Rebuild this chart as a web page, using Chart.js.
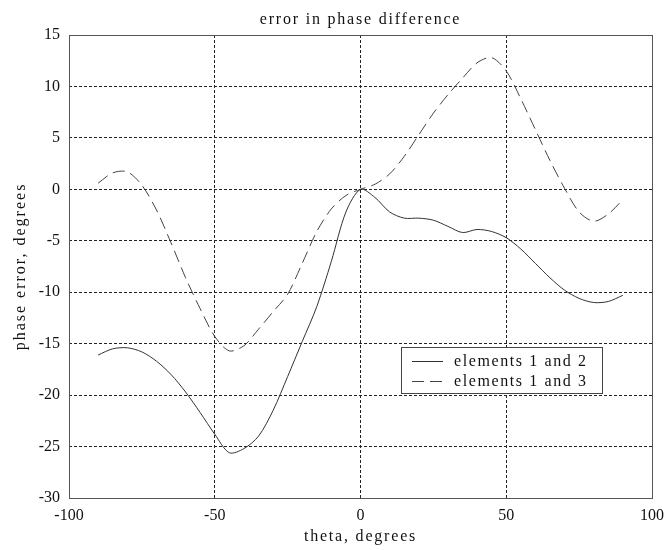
<!DOCTYPE html>
<html>
<head>
<meta charset="utf-8">
<script src="https://cdn.jsdelivr.net/npm/chart.js@4.4.1/dist/chart.umd.min.js"></script>
<style>
  html, body { margin: 0; padding: 0; background: #fff; }
  #wrap { width: 672px; height: 550px; }
</style>
</head>
<body>
<div id="wrap"><canvas id="phase"></canvas></div>
<script>
'use strict';

const thetaDeg = [-90, -85, -80, -75, -70, -65, -60, -55, -50, -45, -40, -35, -30, -25, -20, -15, -10, -5,
  0, 5, 10, 15, 20, 25, 30, 35, 40, 45, 50, 55, 60, 65, 70, 75, 80, 85, 90];

// phase error for element pair 1-2
const elements12 = [-16.1, -15.5, -15.4, -15.8, -16.7, -18.0, -19.7, -21.7, -23.8, -25.6, -25.2, -24.0,
  -21.5, -18.2, -14.8, -11.4, -7.0, -2.2, 0, -0.8, -2.2, -2.8, -2.8, -3.0, -3.6, -4.2, -3.9, -4.1, -4.7,
  -5.8, -7.2, -8.6, -9.8, -10.6, -11.0, -10.9, -10.3];

// phase error for element pair 1-3
const elements13 = [0.6, 1.6, 1.7, 0.4, -2.0, -5.2, -8.6, -11.6, -14.3, -15.7, -15.2, -13.6, -11.9, -10.2,
  -7.2, -4.1, -1.9, -0.6, 0, 0.5, 1.5, 3.2, 5.3, 7.4, 9.2, 10.8, 12.3, 12.8, 11.5, 8.8, 5.8, 2.8, 0.1,
  -2.2, -3.1, -2.4, -1.0];

const seriesNames = ['elements 1 and 2', 'elements 1 and 3'];
const xTicks = [-100, -50, 0, 50, 100];
const yTicks = [-30, -25, -20, -15, -10, -5, 0, 5, 10, 15];

const serif = 'Liberation Serif, Times New Roman, serif';

function toPoints(ys) {
  return thetaDeg.map((t, i) => {
    return { x: t, y: ys[i] };
  });
}

// box round the plot, the titles and the legend inside the plot
const frame = {
  id: 'frame',
  beforeDraw(chart) {
    const ctx = chart.ctx;
    ctx.save();
    ctx.fillStyle = '#fff';
    ctx.fillRect(0, 0, chart.width, chart.height);
    ctx.restore();
  },
  afterDraw(chart) {
    const { ctx, chartArea: a } = chart;
    const midX = (a.left + a.right) / 2;
    const midY = (a.top + a.bottom) / 2;
    ctx.save();
    ctx.strokeStyle = '#555';
    ctx.lineWidth = 1;
    ctx.strokeRect(Math.round(a.left) + 0.5, Math.round(a.top) + 0.5,
      Math.round(a.right - a.left), Math.round(a.bottom - a.top));

    ctx.fillStyle = '#111';
    ctx.font = '16px ' + serif;
    ctx.letterSpacing = '1.8px';
    ctx.textAlign = 'center';
    ctx.textBaseline = 'alphabetic';
    ctx.fillText('error in phase difference', midX, 24);
    ctx.fillText('theta, degrees', midX, 541);

    ctx.save();
    ctx.translate(25, midY);
    ctx.rotate(-Math.PI / 2);
    ctx.letterSpacing = '2px';
    ctx.fillText('phase error, degrees', 0, 0);
    ctx.restore();

    // legend
    const bx = 401, by = 347, bw = 201, bh = 46;
    ctx.fillStyle = '#fff';
    ctx.fillRect(bx, by, bw, bh);
    ctx.strokeStyle = '#444';
    ctx.strokeRect(bx + 0.5, by + 0.5, bw, bh);
    ctx.font = '16px ' + serif;
    ctx.textAlign = 'left';
    ctx.textBaseline = 'middle';
    ctx.letterSpacing = '1.6px';
    chart.data.datasets.forEach((ds, i) => {
      const y = by + 14 + i * 20;
      ctx.strokeStyle = ds.borderColor;
      ctx.lineWidth = 1;
      ctx.setLineDash(ds.borderDash || []);
      ctx.beginPath();
      ctx.moveTo(bx + 11, y + 0.5);
      ctx.lineTo(bx + 42, y + 0.5);
      ctx.stroke();
      ctx.setLineDash([]);
      ctx.fillStyle = '#111';
      ctx.fillText(ds.label, bx + 53, y + 1);
    });
    ctx.restore();
  },
};

new Chart(document.getElementById('phase'), {
  type: 'line',
  data: {
    datasets: [
      {
        label: seriesNames[0],
        data: toPoints(elements12),
        borderColor: '#333',
        borderWidth: 1,
        pointRadius: 0,
        tension: 0.3,
      },
      {
        label: seriesNames[1],
        data: toPoints(elements13),
        borderColor: '#444',
        borderWidth: 1,
        borderDash: [12, 6],
        pointRadius: 0,
        tension: 0.3,
      },
    ],
  },
  options: {
    responsive: true,
    maintainAspectRatio: false,
    animation: false,
    layout: { padding: { left: 0, right: 17, top: 35, bottom: 0 } },
    plugins: {
      legend: { display: false },
      tooltip: { enabled: false },
    },
    scales: {
      x: {
        type: 'linear',
        min: -100,
        max: 100,
        afterBuildTicks: (scale) => {
          scale.ticks = xTicks.map((v) => ({ value: v }));
        },
        afterFit: (scale) => {
          scale.height = 52;
        },
        grid: {
          color: '#222',
          lineWidth: 1,
          drawTicks: false,
        },
        border: { display: false, dash: [3, 2] },
        ticks: {
          padding: 8,
          color: '#111',
          font: { family: serif, size: 16 },
        },
      },
      y: {
        type: 'linear',
        min: -30,
        max: 15,
        afterBuildTicks: (scale) => {
          scale.ticks = yTicks.map((v) => ({ value: v }));
        },
        afterFit: (scale) => {
          scale.width = 69;
        },
        grid: {
          color: '#222',
          lineWidth: 1,
          drawTicks: false,
        },
        border: { display: false, dash: [3, 2] },
        ticks: {
          padding: 9,
          color: '#111',
          font: { family: serif, size: 16 },
        },
      },
    },
  },
  plugins: [frame],
});
</script>
</body>
</html>
